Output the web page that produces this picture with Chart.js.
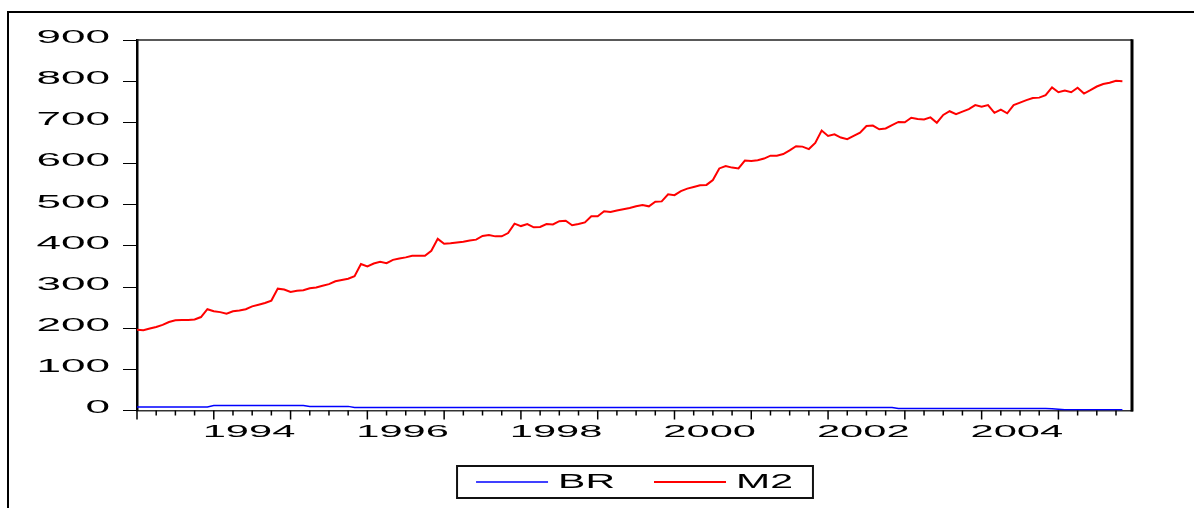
<!DOCTYPE html>
<html>
<head>
<meta charset="utf-8">
<title>BR and M2</title>
<script src="https://cdn.jsdelivr.net/npm/chart.js@4.4.1/dist/chart.umd.min.js"></script>
<style>
  html, body { margin: 0; padding: 0; background: #fff; }
  #wrap { position: relative; width: 1194px; height: 508px; overflow: hidden; }
  #frame { position: absolute; left: 7px; top: 11px; width: 1300px; height: 600px;
           border-top: 2px solid #000; border-left: 2px solid #000; pointer-events: none; }
  #chart { position: absolute; left: 0; top: 0; }
</style>
</head>
<body>
<div id="wrap">
  <div id="frame"></div>
  <canvas id="chart" width="1194" height="508"></canvas>
</div>
<script>
// monthly series, 1993M01 onwards
var firstYear = 1993;

var m2 = [
  196, 195, 199, 203, 208, 215, 219, 220, 220, 221, 227, 246,   // 1993
  241, 239, 235, 241, 243, 246, 253, 257, 261, 267, 296, 294,   // 1994
  288, 291, 292, 297, 299, 303, 307, 314, 317, 320, 326, 356,   // 1995
  350, 357, 361, 358, 366, 369, 372, 376, 376, 376, 388, 417,   // 1996
  405, 406, 408, 410, 413, 415, 424, 426, 423, 423, 431, 454,   // 1997
  448, 453, 445, 446, 453, 452, 460, 461, 450, 453, 457, 472,   // 1998
  472, 484, 482, 486, 489, 492, 496, 499, 496, 507, 508, 525,   // 1999
  523, 533, 539, 543, 547, 548, 560, 588, 594, 590, 588, 607,   // 2000
  606, 608, 612, 619, 619, 623, 632, 642, 641, 635, 650, 680,   // 2001
  667, 671, 663, 659, 667, 675, 691, 692, 683, 685, 693, 701,   // 2002
  700, 711, 708, 707, 712, 699, 718, 727, 720, 726, 732, 742,   // 2003
  738, 742, 723, 731, 722, 742, 748, 754, 759, 760, 766, 785,   // 2004
  773, 777, 773, 784, 770, 778, 787, 793, 796, 801, 800         // 2005
];

var br = [
  8.5, 8.5, 8.5, 8.5, 8.5, 8.5, 8.5, 8.5, 8.5, 8.5, 8.5, 8.5,   // 1993
  12, 12, 12, 12, 12, 12, 12, 12, 12, 12, 12, 12,               // 1994
  12, 12, 12, 10, 10, 10, 10, 10, 10, 10, 7.5, 7.5,             // 1995
  7.5, 7.5, 7.5, 7.5, 7.5, 7.5, 7.5, 7.5, 7.5, 7.5, 7.5, 7.5,   // 1996
  7.5, 7.5, 7.5, 7.5, 7.5, 7.5, 7.5, 7.5, 7.5, 7.5, 7.5, 7.5,   // 1997
  7.5, 7.5, 7.5, 7.5, 7.5, 7.5, 7.5, 7.5, 7.5, 7.5, 7.5, 7.5,   // 1998
  7.5, 7.5, 7.5, 7.5, 7.5, 7.5, 7.5, 7.5, 7.5, 7.5, 7.5, 7.5,   // 1999
  7.5, 7.5, 7.5, 7.5, 7.5, 7.5, 7.5, 7.5, 7.5, 7.5, 7.5, 7.5,   // 2000
  7.5, 7.5, 7.5, 7.5, 7.5, 7.5, 7.5, 7.5, 7.5, 7.5, 7.5, 7.5,   // 2001
  7.5, 7.5, 7.5, 7.5, 7.5, 7.5, 7.5, 7.5, 7.5, 7.5, 7.5, 5,     // 2002
  5, 5, 5, 5, 5, 5, 5, 5, 5, 5, 5, 5,                           // 2003
  5, 5, 5, 5, 5, 5, 5, 5, 5, 5, 5, 4,                           // 2004
  3, 2, 2, 2, 2, 2, 2, 2, 2, 2, 2                               // 2005
];

var labelYears = [1994, 1996, 1998, 2000, 2002, 2004];
var yTicks = [0, 100, 200, 300, 400, 500, 600, 700, 800, 900];

var fontFamily = "'Liberation Sans', Arial, sans-serif";

function toPoints(values) {
  return values.map(function (v, i) { return { x: i, y: v }; });
}

// wide glyphs: stretch text horizontally, per font size
var stretchBySize = { 17: 2.45, 18: 2.45, 20: 2.05 };
var canvas = document.getElementById('chart');
var ctx = canvas.getContext('2d');
var rawFill = ctx.fillText.bind(ctx);
var rawMeasure = ctx.measureText.bind(ctx);
function stretchOf() {
  var m = /(\d+(?:\.\d+)?)px/.exec(ctx.font);
  return (m && stretchBySize[+m[1]]) || 1;
}
ctx.fillText = function (text, x, y, maxWidth) {
  var s = stretchOf();
  ctx.save();
  ctx.translate(x, y);
  ctx.scale(s, 1);
  if (maxWidth === undefined) rawFill(text, 0, 0);
  else rawFill(text, 0, 0, maxWidth / s);
  ctx.restore();
};
ctx.measureText = function (text) {
  var m = rawMeasure(text), s = stretchOf();
  return {
    width: m.width * s,
    actualBoundingBoxLeft: m.actualBoundingBoxLeft * s,
    actualBoundingBoxRight: m.actualBoundingBoxRight * s,
    actualBoundingBoxAscent: m.actualBoundingBoxAscent,
    actualBoundingBoxDescent: m.actualBoundingBoxDescent,
    fontBoundingBoxAscent: m.fontBoundingBoxAscent,
    fontBoundingBoxDescent: m.fontBoundingBoxDescent
  };
};

// legend sits centred under the plot and a little closer to the axis
var legendRaise = 6;
var legendPlace = {
  id: 'legendPlace',
  afterLayout: function (chart) {
    var lg = chart.legend, a = chart.chartArea;
    var dx = (a.left + a.right) / 2 - (lg.left + lg.right) / 2;
    lg.left += dx;
    lg.right += dx;
    lg.top -= legendRaise;
    lg.bottom -= legendRaise;
  }
};

// quarter ticks under the time axis, longer at each year
var quarterTicks = {
  id: 'quarterTicks',
  afterDraw: function (chart) {
    var xs = chart.scales.x, c = chart.ctx, y0 = chart.chartArea.bottom;
    c.save();
    c.strokeStyle = '#000';
    c.lineWidth = 1.5;
    for (var m = 0; m <= xs.max; m += 3) {
      var px = xs.getPixelForValue(m);
      c.beginPath();
      c.moveTo(px, y0);
      c.lineTo(px, y0 + (m % 12 === 0 ? 9 : 5));
      c.stroke();
    }
    c.restore();
  }
};

// top and right edges of the plot frame, plus the box round the legend
var frameLines = {
  id: 'frameLines',
  afterDraw: function (chart) {
    var a = chart.chartArea, c = chart.ctx;
    c.save();
    c.strokeStyle = '#222';
    c.lineWidth = 1.5;
    c.beginPath();
    c.moveTo(a.left, a.top);
    c.lineTo(a.right, a.top);
    c.stroke();
    c.strokeStyle = '#000';
    c.lineWidth = 3;
    c.beginPath();
    c.moveTo(a.right, a.top - 0.75);
    c.lineTo(a.right, a.bottom + 1);
    c.stroke();

    var boxes = chart.legend.legendHitBoxes;
    if (boxes && boxes.length) {
      var first = boxes[0], last = boxes[boxes.length - 1];
      var l = first.left - 19, r = last.left + last.width + 20;
      var cy = first.top + first.height / 2;
      c.lineWidth = 2;
      c.strokeStyle = '#111';
      c.strokeRect(l, cy - 16, r - l, 32);
    }
    c.restore();
  }
};

new Chart(ctx, {
  type: 'line',
  data: {
    datasets: [{
      label: 'BR',
      data: toPoints(br),
      borderColor: '#0000ff',
      backgroundColor: '#0000ff',
      borderWidth: 1.5,
      pointRadius: 0,
      tension: 0,
      fill: false
    },
    {
      label: 'M2',
      data: toPoints(m2),
      borderColor: '#ff0000',
      backgroundColor: '#ff0000',
      borderWidth: 2,
      pointRadius: 0,
      tension: 0,
      fill: false
    }]
  },
  options: {
    responsive: false,
    animation: false,
    events: [],
    layout: { padding: { left: 0, right: 62, top: 40, bottom: 0 } },
    plugins: {
      tooltip: { enabled: false },
      legend: {
        position: 'bottom',
        labels: {
          usePointStyle: true,
          pointStyle: 'line',
          pointStyleWidth: 72,
          padding: 39,
          color: '#000',
          font: { family: fontFamily, size: 20 }
        }
      }
    },
    scales: {
      x: {
        type: 'linear',
        min: 0,
        max: 155.5,
        afterBuildTicks: function (scale) {
          scale.ticks = labelYears.map(function (y) {
            return { value: (y - firstYear) * 12 + 5.5 };
          });
        },
        afterFit: function (scale) { scale.height = 28.5; },
        ticks: {
          autoSkip: false,
          maxRotation: 0,
          padding: 12,
          color: '#000',
          font: { family: fontFamily, size: 17 },
          callback: function (v) { return String(firstYear + Math.floor(v / 12)); }
        },
        grid: { drawOnChartArea: false, drawTicks: false },
        border: { display: true, color: '#333', width: 1.5 }
      },
      y: {
        min: 0,
        max: 900,
        afterBuildTicks: function (scale) {
          scale.ticks = yTicks.map(function (v) { return { value: v }; });
        },
        afterFit: function (scale) { scale.width = 137; },
        ticks: {
          padding: 13,
          labelOffset: -2,
          color: '#000',
          font: { family: fontFamily, size: 18 }
        },
        grid: { drawOnChartArea: false, drawTicks: true, tickLength: 14, tickColor: '#000', tickWidth: 1 },
        border: { display: true, color: '#000', width: 2.5 }
      }
    }
  },
  plugins: [legendPlace, quarterTicks, frameLines]
});
</script>
</body>
</html>
